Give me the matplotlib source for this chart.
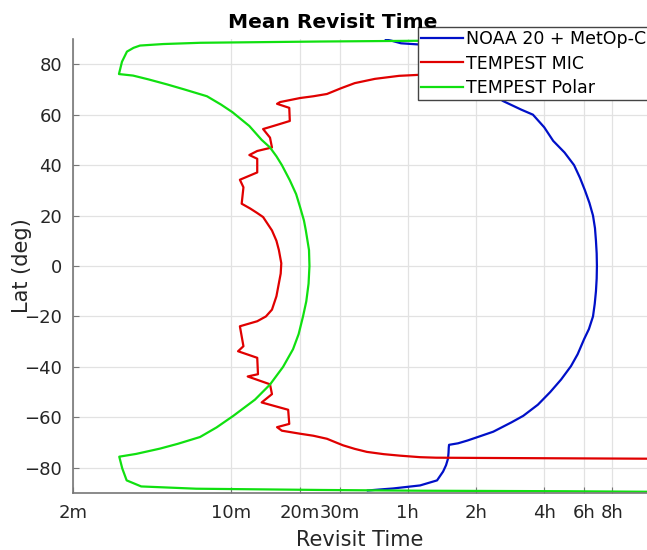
import numpy as np
import matplotlib
matplotlib.use("Agg")
import matplotlib.pyplot as plt
from matplotlib.ticker import NullLocator

# x values are revisit times in minutes, y values latitude in degrees
noaa_lat = [89.8, 89.3, 88.3, 87.8, 86.5, 84, 80, 75, 70, 65.4, 62, 60, 55, 49.6, 45, 40, 35,
            30, 25, 20, 15, 10, 5, 0, -5, -10, -15, -20, -25, -29, -35, -39.7, -45, -50,
            -55, -59.4, -62, -65.7, -67.5, -69.2, -70.3, -70.9, -72, -74, -76.4, -79,
            -81.5, -85, -87, -88.2, -88.6, -89]
noaa_min = [48, 51, 56, 68, 75, 85, 98, 113, 133, 158, 190, 214, 240, 263, 295, 325, 345,
            363, 380, 394, 402, 406, 409, 410, 409, 406, 401, 394, 378, 360, 337, 315, 285, 255,
            225, 194, 172, 143, 125, 110, 100, 91.3, 91.0, 90.8, 90.3, 88.5,
            85.9, 80.8, 68, 51.7, 45.3, 40]

mic_lat = [76.4, 76.2, 76.0, 75.4, 74.2, 72.5, 70.5, 68.2, 67.3, 66.6, 65.0, 64.3, 62.7, 57.5,
           55.5, 54.3, 50.9, 47.0, 45.6, 44.0, 42.5, 37.1, 34.2, 31.2, 24.7, 22.8, 21.0, 19.4,
           14.1, 10.0, 6.3, 1.1, -3.0, -6.8, -12.0, -17.3, -20.0, -21.9, -23.9, -31.8, -33.8,
           -36.4, -42.9, -43.8, -46.9, -50.8, -54.1, -57.0, -62.6, -63.9, -65.3, -66.5, -67.3,
           -68.5, -70.0, -71.1, -72.5, -73.7, -74.6, -75.2, -75.8, -76.0, -76.1, -76.4]
mic_min = [682, 125, 75, 55, 43, 35, 30.5, 26.4, 23, 20.1, 16.4, 15.9, 18.0, 18.1,
           15.3, 13.8, 14.8, 15.1, 13.0, 12.0, 13.0, 13.0, 10.9, 11.3, 11.1, 12.1, 13.0, 13.8,
           15.1, 15.8, 16.2, 16.6, 16.5, 16.2, 15.8, 15.1, 14.2, 13.0, 10.9, 11.3, 10.7,
           13.0, 13.1, 11.8, 14.8, 15.1, 13.6, 17.8, 18.0, 15.9, 16.7, 20.1, 23,
           26.4, 29, 31.1, 35, 39.6, 47, 55.5, 68, 80, 125, 682]

polar_lat = [89.6, 89.3, 89.0, 88.5, 88.0, 87.4, 86.5, 85, 81, 76.1, 75.5, 74, 72, 70, 67.3, 64,
             61, 55.5, 50, 47, 43.5, 40, 34, 28.5, 23.3, 18, 14.1, 6.3, 0, -7, -14, -20, -27,
             -33, -40, -47, -53, -59.4, -64, -67.8, -70.5, -72.4, -74.5, -75.6, -80.3, -85,
             -87.4, -88.3, -88.8, -89.1, -89.3, -89.5]
polar_min = [682, 68, 24.6, 7.3, 5.0, 3.95, 3.7, 3.46, 3.29, 3.19, 3.68, 4.3, 5.2, 6.2, 7.8, 9.0,
             10.1, 12.0, 13.6, 14.8, 15.8, 16.7, 18.1, 19.3, 20.1, 20.9, 21.3, 22.0, 22.1, 21.9,
             21.4, 20.7, 19.8, 18.7, 16.9, 14.8, 12.7, 10.2, 8.6, 7.27, 5.8, 4.84, 3.8, 3.2,
             3.3, 3.45, 4.0, 7.0, 25, 70, 300, 682]

tick_min = [2, 10, 20, 30, 60, 120, 240, 360, 480]
tick_labels = ["2m", "10m", "20m", "30m", "1h", "2h", "4h", "6h", "8h"]
lat_ticks = [-80, -60, -40, -20, 0, 20, 40, 60, 80]

fig = plt.figure(figsize=(6.47, 5.50), dpi=100)
ax = fig.add_axes([73 / 647, 57 / 550, 1 - 73 / 647, 454 / 550])

ax.plot(noaa_min, noaa_lat, color="#0010c8", lw=1.6, label="NOAA 20 + MetOp-C")
ax.plot(mic_min, mic_lat, color="#e00000", lw=1.6, label="TEMPEST MIC")
ax.plot(polar_min, polar_lat, color="#10e010", lw=1.6, label="TEMPEST Polar")

ax.set_xscale("log")
ax.set_xlim(2, 682)
ax.set_ylim(-90, 90)
ax.set_xticks(tick_min)
ax.set_xticklabels(tick_labels)
ax.xaxis.set_minor_locator(NullLocator())
ax.set_yticks(lat_ticks)

ax.grid(True, color="#e2e2e2", lw=0.9)
ax.set_axisbelow(True)
for side in ["top", "right"]:
    ax.spines[side].set_visible(False)
for side in ["left", "bottom"]:
    ax.spines[side].set_color("#777777")
    ax.spines[side].set_linewidth(1.2)
ax.tick_params(direction="in", length=4, color="#777777", labelsize=13,
               labelcolor="#262626", pad=8)

ax.set_xlabel("Revisit Time", fontsize=15, color="#262626", labelpad=6)
ax.set_ylabel("Lat (deg)", fontsize=15, color="#262626", labelpad=-6)
fig.text(333 / 647, 1 - 28 / 550, "Mean Revisit Time", fontsize=14.5, fontweight="bold",
         ha="center", va="baseline")

leg = ax.legend(loc="upper right", bbox_to_anchor=(650 / 647, 1 - 27 / 550),
                bbox_transform=fig.transFigure, fontsize=12.5, frameon=True,
                fancybox=False, borderaxespad=0, handlelength=2.4, handletextpad=0.2,
                labelspacing=0.35, borderpad=0.2)
leg.get_frame().set_edgecolor("#444444")
leg.get_frame().set_linewidth(1.0)
leg.get_frame().set_alpha(1)

fig.savefig("out.png", dpi=100)
